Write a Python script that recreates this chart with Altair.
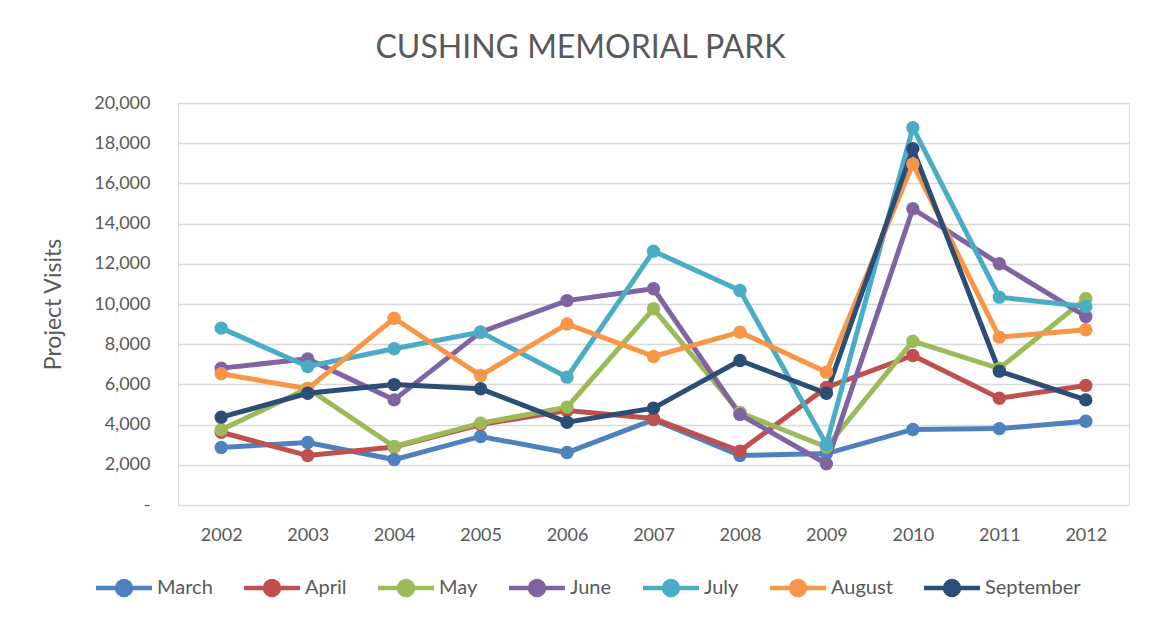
import altair as alt
import pandas as pd

years = ["2002", "2003", "2004", "2005", "2006", "2007", "2008", "2009", "2010", "2011", "2012"]
months = ["March", "April", "May", "June", "July", "August", "September"]
colors = ["#4F81BD", "#C0504D", "#9BBB59", "#8064A2", "#4BACC6", "#F79646", "#2C4D75"]

march = [2860, 3110, 2260, 3410, 2610, 4250, 2460, 2560, 3760, 3800, 4170]
april = [3620, 2460, 2880, 4000, 4700, 4300, 2680, 5850, 7440, 5310, 5950]
may = [3740, 5800, 2910, 4070, 4870, 9760, 4600, 2880, 8150, 6790, 10270]
june = [6810, 7270, 5230, 8600, 10170, 10760, 4500, 2050, 14740, 12000, 9380]
july = [8800, 6890, 7770, 8600, 6360, 12630, 10670, 3010, 18770, 10340, 9880]
august = [6530, 5780, 9290, 6440, 9010, 7390, 8600, 6610, 16970, 8350, 8720]
september = [4370, 5560, 5990, 5780, 4120, 4820, 7190, 5560, 17720, 6660, 5230]

series = [march, april, may, june, july, august, september]
rows = []
for m, vals in zip(months, series):
    for y, v in zip(years, vals):
        rows.append({"Year": y, "Month": m, "Visits": v})
df = pd.DataFrame(rows)

FONT = "Lato"
TXT = "#595959"

color = alt.Color(
    "Month:N",
    sort=months,
    scale=alt.Scale(domain=months, range=colors),
    legend=alt.Legend(
        title=None,
        orient="none",
        legendX=-85,
        legendY=475,
        direction="horizontal",
        symbolType="M -1 0 H 7 M 2 0 A 1 1 0 1 1 4 0 A 1 1 0 1 1 2 0 Z",
        symbolSize=196,
        symbolStrokeWidth=4.5,
        labelOffset=44,
        labelFontSize=20,
        labelFont=FONT,
        labelColor=TXT,
        columnPadding=22,
    ),
)

x = alt.X(
    "Year:O",
    sort=years,
    scale=alt.Scale(type="point", padding=0.5),
    axis=alt.Axis(
        title=None,
        labelAngle=0,
        labelFontSize=18,
        labelFont=FONT,
        labelColor=TXT,
        labelPadding=21,
        domain=False,
        ticks=False,
        grid=False,
    ),
)
y = alt.Y(
    "Visits:Q",
    scale=alt.Scale(domain=[0, 20000], nice=False),
    axis=alt.Axis(
        title="Project Visits",
        titleFontSize=23,
        titleFont=FONT,
        titleColor=TXT,
        titleFontWeight="normal",
        titlePadding=28,
        values=list(range(0, 20001, 2000)),
        labelExpr="datum.value == 0 ? '-' : format(datum.value, ',')",
        labelFontSize=18,
        labelFont=FONT,
        labelColor=TXT,
        labelPadding=28,
        domain=False,
        ticks=False,
        gridColor="#D9D9D9",
        gridWidth=1.5,
    ),
)

base = alt.Chart(df)
lines = base.mark_line(strokeWidth=5).encode(x=x, y=y, color=color, order="Year:O")
points = base.mark_circle(size=180, opacity=1).encode(x=x, y=y, color=color)

chart = (
    alt.layer(lines, points)
    .properties(
        width=951,
        height=402,
        padding={"left": 170, "top": 95, "right": 14, "bottom": 113},
        autosize=alt.AutoSizeParams(type="none"),
        title=alt.TitleParams(
            "CUSHING MEMORIAL PARK",
            fontSize=32,
            font=FONT,
            color=TXT,
            fontWeight="normal",
            anchor="middle",
            dx=-73,
            offset=29,
        ),
    )
    .configure_view(strokeWidth=0, stroke="transparent")
    .configure(background="white")
)

chart.save("out.html", embed_options={"renderer": "svg", "actions": False})
